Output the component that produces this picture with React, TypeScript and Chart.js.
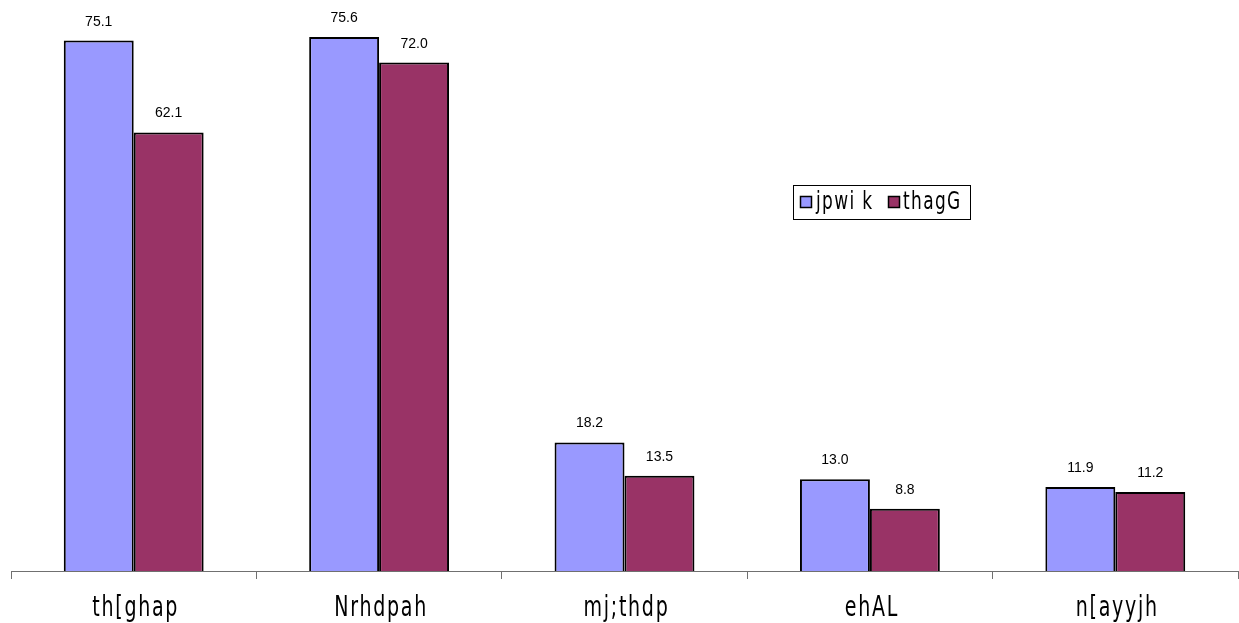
import React, { useEffect, useRef } from "react";
import { Chart, registerables } from "chart.js";

Chart.register(...registerables);

const categories = ["th[ghap", "Nrhdpah", "mj;thdp", "ehAL", "n[ayyjh"];
const seriesNames = ["jpwi k", "thagG"];
const series1 = [75.1, 75.6, 18.2, 13.0, 11.9];
const series2 = [62.1, 72.0, 13.5, 8.8, 11.2];
const colors = ["#9999FF", "#993366"];

const LABEL_FONT = "'DejaVu Sans', sans-serif";

function drawNarrowText(ctx: any, text: string, x: number, y: number, size: number, align: "center" | "left", spacing: number) {
  ctx.save();
  ctx.font = size + "px " + LABEL_FONT;
  try {
    (ctx as any).letterSpacing = spacing + "px";
  } catch (e) {}
  ctx.textBaseline = "alphabetic";
  ctx.textAlign = align;
  ctx.translate(x, y);
  ctx.scale(0.68, 1);
  ctx.fillStyle = "#000";
  ctx.fillText(text, 0, 0);
  ctx.restore();
}

const categoryLabels = {
  id: "categoryLabels",
  afterDraw(chart: any) {
    const ctx = chart.ctx;
    const xs = chart.scales.x;
    chart.data.labels.forEach((lab: string, i: number) => {
      drawNarrowText(ctx, lab, xs.getPixelForValue(i) + 2, 616, 28, "center", 2.5);
    });
  },
};

const valueLabels = {
  id: "valueLabels",
  afterDatasetsDraw(chart: any) {
    const ctx = chart.ctx;
    ctx.save();
    ctx.font = "14px 'Liberation Sans', Arial, sans-serif";
    ctx.fillStyle = "#000";
    ctx.textAlign = "center";
    ctx.textBaseline = "alphabetic";
    chart.data.datasets.forEach((ds: any, i: number) => {
      const meta = chart.getDatasetMeta(i);
      meta.data.forEach((bar: any, j: number) => {
        ctx.fillText(Number(ds.data[j]).toFixed(1), bar.x, bar.y - 15);
      });
    });
    ctx.restore();
  },
};

const boxLegend = {
  id: "boxLegend",
  afterDraw(chart: any) {
    const ctx = chart.ctx;
    ctx.save();
    const x = 793.5, y = 185.5, w = 177, h = 34;
    ctx.fillStyle = "#fff";
    ctx.fillRect(x, y, w, h);
    ctx.strokeStyle = "#000";
    ctx.lineWidth = 1;
    ctx.strokeRect(x, y, w, h);
    const items = [
      { sx: 800.5, tx: 816 },
      { sx: 888.5, tx: 903 },
    ];
    items.forEach((it, i) => {
      ctx.fillStyle = colors[i];
      ctx.fillRect(it.sx, 196.5, 11, 11);
      ctx.strokeStyle = "#000";
      ctx.lineWidth = 1.5;
      ctx.strokeRect(it.sx, 196.5, 11, 11);
      drawNarrowText(ctx, seriesNames[i], it.tx, 209, 25, "left", 2);
    });
    ctx.restore();
  },
};

export default function App() {
  const ref = useRef<HTMLCanvasElement | null>(null);
  useEffect(() => {
    if (!ref.current) return;
    const chart = new Chart(ref.current, {
      type: "bar",
      data: {
        labels: categories,
        datasets: [
          {
            label: seriesNames[0],
            data: series1,
            backgroundColor: colors[0],
            borderColor: "#000",
            borderWidth: 2,
          },
          {
            label: seriesNames[1],
            data: series2,
            backgroundColor: colors[1],
            borderColor: "#000",
            borderWidth: 2,
          },
        ],
      },
      options: {
        animation: false,
        responsive: false,
        devicePixelRatio: 1,
        layout: { padding: { left: 11, right: 1, top: 6, bottom: 0 } },
        datasets: { bar: { categoryPercentage: 0.57, barPercentage: 1.0 } },
        plugins: { legend: { display: false }, tooltip: { enabled: false } },
        scales: {
          y: { display: false, min: 0, max: 80 },
          x: {
            afterFit(scale: any) {
              scale.height = 52;
            },
            grid: {
              drawOnChartArea: false,
              drawTicks: true,
              tickLength: 8,
              color: "#707070",
              offset: true,
            },
            border: { color: "#707070", width: 1 },
            ticks: { display: false },
          },
        },
      },
      plugins: [valueLabels, categoryLabels, boxLegend],
    });
    return () => chart.destroy();
  }, []);
  return (
    <div style={{ position: "absolute", left: 0, top: 0, width: 1239, height: 623, background: "#fff" }}>
      <canvas ref={ref} width={1239} height={623} style={{ width: 1239, height: 623, display: "block" }} />
    </div>
  );
}
